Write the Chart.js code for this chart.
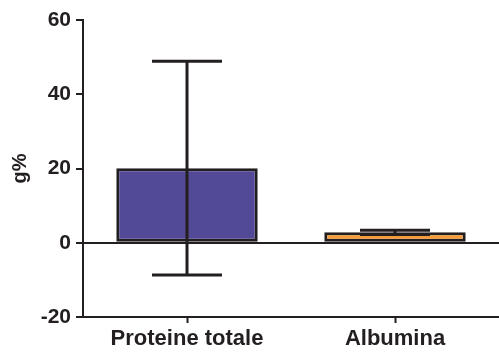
<!DOCTYPE html>
<html>
<head>
<meta charset="utf-8">
<script src="https://cdn.jsdelivr.net/npm/chart.js@4"></script>
<style>
  html, body { margin: 0; padding: 0; background: #fff; }
  #wrap { width: 499px; height: 354px; }
</style>
</head>
<body>
<div id="wrap"><canvas id="myChart"></canvas></div>
<script>
const categorie = ['Proteine totale', 'Albumina'];
const medie = [20.1, 2.8];
const errori = [28.8, 0.6];
const coloriBarre = ['#524a96', '#f39c38'];
const tickY = [-20, 0, 20, 40, 60];

const scuro = '#231f20';

// error bars drawn on top of the bars, through the scales
const erroriPlugin = {
    id: 'erroriPlugin',
    afterDatasetsDraw(chart) {
        const ctx = chart.ctx;
        const meta = chart.getDatasetMeta(0);
        const y = chart.scales.y;
        ctx.save();
        ctx.strokeStyle = scuro;
        ctx.lineWidth = 3;
        meta.data.forEach(function (bar, i) {
            const top = y.getPixelForValue(medie[i] + errori[i]);
            const bot = y.getPixelForValue(medie[i] - errori[i]);
            const half = 35;
            ctx.beginPath();
            ctx.moveTo(bar.x, top);
            ctx.lineTo(bar.x, bot);
            ctx.moveTo(bar.x - half, top);
            ctx.lineTo(bar.x + half, top);
            ctx.moveTo(bar.x - half, bot);
            ctx.lineTo(bar.x + half, bot);
            ctx.stroke();
        });
        ctx.restore();
    }
};

const data = {
    labels: categorie,
    datasets: [{
        data: medie,
        backgroundColor: coloriBarre,
        borderColor: scuro,
        borderWidth: 3,
        borderSkipped: false,
        barPercentage: 0.68,
        categoryPercentage: 1
    }]
};

const config = {
    type: 'bar',
    data: data,
    plugins: [erroriPlugin],
    options: {
        responsive: false,
        animation: false,
        layout: { padding: { top: 20, right: 0, left: 0, bottom: 0 } },
        plugins: {
            legend: { display: false },
            tooltip: { enabled: false }
        },
        scales: {
            x: {
                grid: {
                    offset: false,
                    drawOnChartArea: false,
                    drawTicks: true,
                    tickLength: 6,
                    tickColor: scuro,
                    tickWidth: 2
                },
                border: { display: true, color: scuro, width: 2 },
                ticks: {
                    color: '#231f20',
                    padding: 3,
                    font: { family: 'Liberation Sans, Arial, sans-serif', size: 22, weight: 'bold' }
                },
                afterFit: function (scale) { scale.height = 37; }
            },
            y: {
                min: -20,
                max: 60,
                afterBuildTicks: function (scale) {
                    scale.ticks = tickY.map(v => ({ value: v }));
                },
                grid: {
                    drawOnChartArea: true,
                    drawTicks: true,
                    tickLength: 7,
                    color: function (c) { return c.tick && c.tick.value === 0 ? scuro : 'rgba(0,0,0,0)'; },
                    lineWidth: 2,
                    tickColor: scuro,
                    tickWidth: 2
                },
                border: { display: true, color: scuro, width: 2 },
                ticks: {
                    color: '#231f20',
                    padding: 5,
                    font: { family: 'Liberation Sans, Arial, sans-serif', size: 21, weight: 'bold' }
                },
                title: {
                    display: true,
                    text: 'g%',
                    color: '#231f20',
                    padding: { top: 8, bottom: 0 },
                    font: { family: 'Liberation Sans, Arial, sans-serif', size: 20, weight: 'bold' }
                },
                afterFit: function (scale) { scale.width = 83; }
            }
        }
    }
};

const canvas = document.getElementById('myChart');
canvas.width = 499;
canvas.height = 354;
const myChart = new Chart(canvas, config);
</script>
</body>
</html>
